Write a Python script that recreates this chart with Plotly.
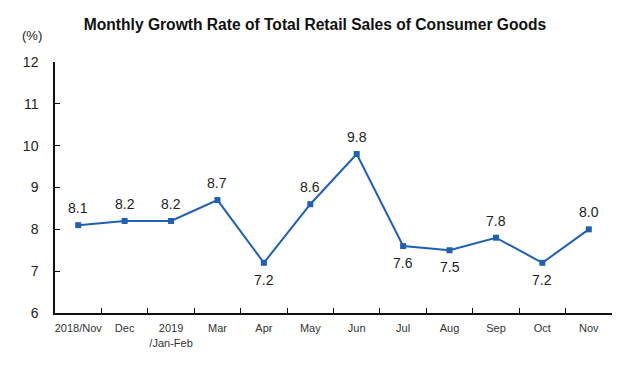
import plotly.graph_objects as go

categories = ["2018/Nov", "Dec", "2019<br>/Jan-Feb", "Mar", "Apr", "May", "Jun",
              "Jul", "Aug", "Sep", "Oct", "Nov"]
growth = [8.1, 8.2, 8.2, 8.7, 7.2, 8.6, 9.8, 7.6, 7.5, 7.8, 7.2, 8.0]
label_pos = ["above", "above", "above", "above", "below", "above", "above",
             "below", "below", "above", "below", "above"]
y_ticks = [6, 7, 8, 9, 10, 11, 12]

LINE = "#1f60b3"
FONT = "Liberation Sans, Arial, sans-serif"

fig = go.Figure()
fig.add_trace(go.Scatter(
    x=categories, y=growth, mode="lines+markers",
    line=dict(color=LINE, width=2),
    marker=dict(symbol="square", size=6, color=LINE),
    hoverinfo="x+y", showlegend=False,
))

annotations = []
for c, v, p in zip(categories, growth, label_pos):
    annotations.append(dict(
        x=c, y=v, xref="x", yref="y", text=f"{v:.1f}", showarrow=False,
        yshift=17 if p == "above" else -17, yanchor="middle",
        font=dict(family=FONT, size=14, color="#222222"),
    ))
pw = 640 - 55 - 28
ph = 372 - 62 - 59
annotations.append(dict(
    x=(32 - 55) / pw, y=1 + (62 - 35) / ph, xref="paper", yref="paper",
    text="(%)", showarrow=False, xanchor="center", yanchor="middle",
    font=dict(family=FONT, size=13, color="#222222"),
))

fig.update_layout(
    width=640, height=372,
    margin=dict(l=55, r=28, t=62, b=59, autoexpand=False),
    paper_bgcolor="white", plot_bgcolor="white",
    title=dict(text="<b>Monthly Growth Rate of Total Retail Sales of Consumer Goods</b>",
               x=315 / 640, xanchor="center", y=1 - 25 / 372, yanchor="middle",
               font=dict(family=FONT, size=15.6, color="#111111")),
    annotations=annotations,
)

fig.update_xaxes(
    type="category", tickson="boundaries", ticks="inside", ticklen=5,
    tickcolor="#111111", showline=True, linecolor="#111111", linewidth=2,
    showgrid=False, tickfont=dict(family=FONT, size=11, color="#333333"),
    tickangle=0, automargin=False, range=[-0.5, 11.5], ticklabelstandoff=4,
)
fig.update_yaxes(
    range=[6, 12], tickvals=y_ticks, ticks="inside", ticklen=5,
    tickcolor="#111111", showline=True, linecolor="#111111", linewidth=1.5,
    showgrid=False, zeroline=False, automargin=False,
    tickfont=dict(family=FONT, size=14, color="#222222"), ticklabelstandoff=12,
)

fig.write_html("out.html", config={"displayModeBar": False},
               post_script="document.body.style.margin='0';document.body.style.overflow='hidden';")
